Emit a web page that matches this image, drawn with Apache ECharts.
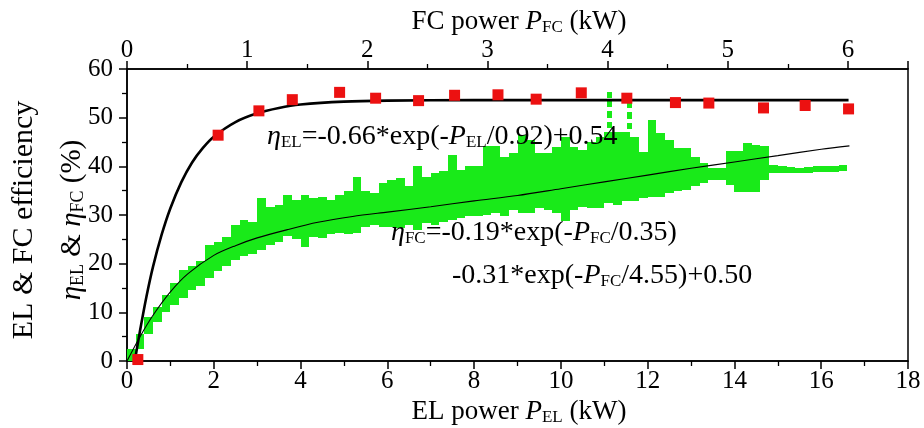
<!DOCTYPE html>
<html>
<head>
<meta charset="utf-8">
<script src="https://cdn.jsdelivr.net/npm/echarts@6/dist/echarts.min.js"></script>
<style>html,body{margin:0;padding:0;background:#fff}#c{width:924px;height:428px}</style>
</head>
<body>
<div id="c"></div>
<script>
// ---------------- data ----------------
// EL efficiency measured points (bottom axis, kW ; %)
const elX = [0.25, 2.10, 3.04, 3.81, 4.90, 5.73, 6.72, 7.55, 8.55, 9.43, 10.47, 11.52, 12.64, 13.41, 14.67, 15.63, 16.63];
const elY = [0.3, 46.4, 51.4, 53.7, 55.2, 54.0, 53.5, 54.6, 54.7, 53.8, 55.1, 54.0, 53.1, 53.0, 52.0, 52.5, 51.8];

// EL fit curve
const elFitX = [0.18, 0.3, 0.45, 0.6, 0.8, 1.0, 1.25, 1.5, 1.75, 2.0, 2.5, 3.0, 3.5, 4.0, 5.0, 6.0, 8.0, 12.0, 16.63];
const elFitY = [0, 6.2, 13.3, 19.4, 26.0, 31.4, 36.7, 40.8, 43.8, 46.1, 49.1, 50.9, 52.0, 52.7, 53.3, 53.5, 53.6, 53.6, 53.6];

// FC fit curve (in EL-axis units)
const fcFitX = [0, 0.3, 0.6, 1.0, 1.4, 2.0, 2.5, 3.0, 3.7, 4.4, 5.2, 6.0, 7.0, 8.0, 9.0, 10.0, 11.0, 12.0, 13.0, 14.0, 15.0, 16.0, 16.65];
const fcFitY = [0, 5.0, 9.4, 14.2, 17.9, 21.7, 23.7, 25.3, 27.0, 28.5, 29.7, 30.6, 31.7, 32.9, 34.0, 35.4, 36.8, 38.2, 39.6, 40.9, 42.2, 43.5, 44.2];

// FC measured efficiency cloud: per-bin lower / upper envelope
const fcBinX = [0.1,0.3,0.5,0.7,0.9,1.1,1.3,1.5,1.7,1.9,2.1,2.3,2.5,2.7,2.9,3.1,3.3,3.5,3.7,3.9,
  4.1,4.3,4.5,4.7,4.9,5.1,5.3,5.5,5.7,5.9,6.1,6.3,6.5,6.7,6.9,7.1,7.3,7.5,7.7,7.9,
  8.1,8.3,8.5,8.7,8.9,9.1,9.3,9.5,9.7,9.9,10.1,10.3,10.5,10.7,10.9,11.1,11.3,11.5,11.7,11.9,
  12.1,12.3,12.5,12.7,12.9,13.1,13.3,13.5,13.7,13.9,14.1,14.3,14.5,14.7,14.9,15.1,15.3,15.5,15.7,15.9,
  16.1,16.3,16.5];
const fcBinLo = [0,2.5,5.5,8,10,11.5,13,14.5,15.5,17,18.4,19.5,20.8,21.5,22,22.8,23.9,24.5,25.6,25,
  23.5,25.5,25.2,26,26.3,26,26.3,27.5,28,27.6,27.6,27.3,28,27,28.3,28,28.5,29,29.3,29.7,
  29.7,30,30.4,29.7,31,30.5,30.4,31.5,31,30.5,28.7,31,31.7,31.5,31.4,32.4,32,32.8,32.8,33.5,
  33.8,33.8,34.5,35,35.2,36,36.6,37.2,37.2,36.2,34.8,34.8,34.8,37.2,38.7,38.7,38.6,38.6,38.7,38.8,
  38.8,38.9,39];
const fcBinHi = [2.5,5.5,9,11,13.5,16,18.7,19.5,20.5,23.9,24.5,25.5,28,29,28.5,33.5,31.7,32,34.1,33,
  34.1,33.5,33.8,33,34.1,35,37.9,35,34.5,36.6,37.2,37.6,36,40,37.9,38.6,39,42.4,39.3,40,
  40,44.1,44.1,42,42.7,46.5,45.5,42.7,42.7,44,46.1,44,43.4,45,46.1,47,47,47,46,43,
  49.6,46.9,45.5,43.8,43.8,42,40.7,39.6,39.6,43.1,43.1,44.8,44.4,44.1,40.2,40,39.8,39.7,39.9,40,
  40.1,40.1,40.2];
// dashed spikes of the cloud
const dashX  = [11.12, 11.12, 11.12, 11.12, 11.58, 11.58, 11.58, 11.58];
const dashLo = [47.8, 50.0, 52.2, 54.0, 47.6, 49.8, 52.0, 53.8];
const dashHi = [49.2, 51.4, 53.6, 55.2, 49.0, 51.2, 53.4, 54.8];

// axis tick definitions
const xBottom = {min: 0, max: 18, interval: 2};
const xTop = {min: 0, max: 6.5, interval: 1};
const yAx = {min: 0, max: 60, interval: 10};

// ---------------- chart ----------------
const FONT = 'Liberation Serif';
const GREEN = '#19ea19';
const chart = echarts.init(document.getElementById('c'), null, {renderer: 'canvas'});

function zip(a, b) { return a.map((v, i) => [v, b[i]]); }
function zip3(a, b, c) { return a.map((v, i) => [v, b[i], c[i]]); }

function rangeRenderer(w) {
  return function (params, api) {
    const x = api.value(0), lo = api.value(1), hi = api.value(2);
    const p1 = api.coord([x - w / 2, hi]);
    const p2 = api.coord([x + w / 2, lo]);
    const x0 = Math.round(p1[0]), x1 = Math.round(p2[0]);
    const y0 = Math.round(p1[1]), y1 = Math.round(p2[1]);
    return {type: 'rect', shape: {x: x0, y: y0, width: x1 - x0, height: y1 - y0},
      style: {fill: GREEN, opacity: 1}};
  };
}

const axisLineStyle = {color: '#000', width: 1.5};
const richBase = (fs) => ({
  n: {fontFamily: FONT, fontSize: fs, color: '#000'},
  i: {fontFamily: FONT, fontSize: fs, fontStyle: 'italic', color: '#000'},
  s: {fontFamily: FONT, fontSize: Math.round(fs * 0.62), color: '#000', padding: [Math.round(fs * 0.42), 0, 0, 0]}
});

const option = {
  animation: false,
  backgroundColor: '#fff',
  grid: {left: 127, right: 16, top: 69, bottom: 67, show: true, borderColor: '#000', borderWidth: 1.5},
  xAxis: [
    {type: 'value', position: 'bottom', min: xBottom.min, max: xBottom.max, interval: xBottom.interval,
      axisLine: {show: true, lineStyle: axisLineStyle},
      axisTick: {show: true, inside: false, length: 8, lineStyle: axisLineStyle},
      minorTick: {show: true, splitNumber: 2, length: 5, lineStyle: {color: '#000', width: 1.3}},
      axisLabel: {fontFamily: FONT, fontSize: 25, color: '#000', margin: 8},
      splitLine: {show: false}},
    {type: 'value', position: 'top', min: xTop.min, max: xTop.max, interval: xTop.interval,
      axisLine: {show: true, lineStyle: axisLineStyle},
      axisTick: {show: true, inside: false, length: 8, lineStyle: axisLineStyle},
      minorTick: {show: true, splitNumber: 2, length: 5, lineStyle: {color: '#000', width: 1.3}},
      axisLabel: {fontFamily: FONT, fontSize: 25, color: '#000', margin: 6, showMaxLabel: false,
        formatter: v => (v > 6.01 ? '' : String(v))},
      splitLine: {show: false}}
  ],
  yAxis: [
    {type: 'value', min: yAx.min, max: yAx.max, interval: yAx.interval,
      axisLine: {show: true, lineStyle: axisLineStyle},
      axisTick: {show: true, inside: false, length: 8, lineStyle: axisLineStyle},
      minorTick: {show: true, splitNumber: 2, length: 5, lineStyle: {color: '#000', width: 1.3}},
      axisLabel: {fontFamily: FONT, fontSize: 25, color: '#000', margin: 14},
      splitLine: {show: false}}
  ],
  series: [
    {type: 'custom', name: 'FC cloud', xAxisIndex: 0, yAxisIndex: 0, renderItem: rangeRenderer(0.2),
      data: zip3(fcBinX, fcBinLo, fcBinHi), z: 1, clip: true, itemStyle: {opacity: 1}},
    {type: 'custom', name: 'FC dashes', xAxisIndex: 0, yAxisIndex: 0, renderItem: rangeRenderer(0.13),
      data: zip3(dashX, dashLo, dashHi), z: 1, clip: true, itemStyle: {opacity: 1}},
    {type: 'line', name: 'FC fit', data: zip(fcFitX, fcFitY), smooth: 0.3, showSymbol: false, symbol: 'none',
      lineStyle: {color: '#000', width: 1.1}, z: 3},
    {type: 'line', name: 'EL fit', data: zip(elFitX, elFitY), smooth: 0.3, showSymbol: false, symbol: 'none',
      lineStyle: {color: '#000', width: 2.6}, z: 4},
    {type: 'scatter', name: 'EL', data: zip(elX, elY), symbol: 'rect', symbolSize: 11,
      itemStyle: {color: '#ec1111', opacity: 1}, z: 5, clip: false}
  ],
  graphic: [
    {type: 'text', x: 519, y: 22, z: 10, style: {
      text: '{n|FC power }{i|P}{s|FC}{n| (kW)}', align: 'center', verticalAlign: 'middle', rich: richBase(27)}},
    {type: 'text', x: 519, y: 412, z: 10, style: {
      text: '{n|EL power }{i|P}{s|EL}{n| (kW)}', align: 'center', verticalAlign: 'middle', rich: richBase(27)}},
    {type: 'text', x: 24, y: 220, rotation: Math.PI / 2, z: 10, style: {
      text: '{n|EL & FC efficiency}', align: 'center', verticalAlign: 'middle', rich: richBase(30)}},
    {type: 'text', x: 72, y: 220, rotation: Math.PI / 2, z: 10, style: {
      text: '{i|η}{s|EL}{n| & }{i|η}{s|FC}{n| (%)}', align: 'center', verticalAlign: 'middle', rich: richBase(29)}},
    {type: 'text', x: 267, y: 137, z: 10, style: {
      text: '{i|η}{s|EL}{n|=-0.66*exp(-}{i|P}{s|EL}{n|/0.92)+0.54}', align: 'left', verticalAlign: 'middle', rich: richBase(28)}},
    {type: 'text', x: 391, y: 233, z: 10, style: {
      text: '{i|η}{s|FC}{n|=-0.19*exp(-}{i|P}{s|FC}{n|/0.35)}', align: 'left', verticalAlign: 'middle', rich: richBase(28)}},
    {type: 'text', x: 452, y: 276, z: 10, style: {
      text: '{n|-0.31*exp(-}{i|P}{s|FC}{n|/4.55)+0.50}', align: 'left', verticalAlign: 'middle', rich: richBase(28)}}
  ]
};
chart.setOption(option);
</script>
</body>
</html>
